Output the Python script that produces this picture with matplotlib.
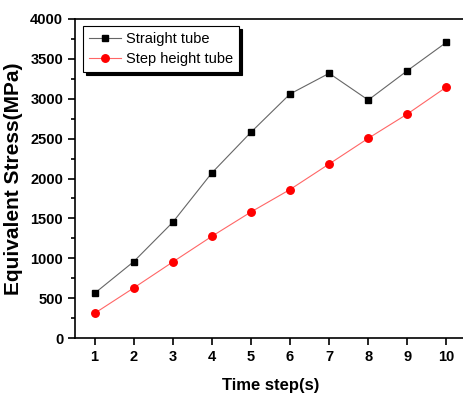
import matplotlib.pyplot as plt
from matplotlib.ticker import MultipleLocator

time_steps = [1, 2, 3, 4, 5, 6, 7, 8, 9, 10]
straight_tube = [560, 957, 1451, 2070, 2580, 3060, 3319, 2984, 3352, 3708]
step_height_tube = [309, 627, 953, 1275, 1580, 1862, 2182, 2504, 2809, 3147]

plt.rcParams['font.family'] = ['Liberation Sans', 'DejaVu Sans']

fig = plt.figure(figsize=(4.63, 3.94), dpi=100)
ax = fig.add_axes([75 / 463, 1 - 338 / 394, 391 / 463, 319 / 394])

ax.plot(time_steps, straight_tube, color='#666666', lw=0.8, marker='s', ms=4.8,
        mfc='black', mec='black', label='Straight tube')
ax.plot(time_steps, step_height_tube, color='#ff6666', lw=0.8, marker='o', ms=5.4,
        mfc='red', mec='red', label='Step height tube')

ax.set_xlim(0.5, 10.5)
ax.set_ylim(0, 4000)
ax.set_xticks(time_steps)
ax.yaxis.set_major_locator(MultipleLocator(500))
ax.yaxis.set_minor_locator(MultipleLocator(250))
ax.tick_params(which='both', direction='out', top=False, right=False, width=1.2)
ax.tick_params(which='major', length=5, labelsize=10.5)
ax.tick_params(which='minor', length=3)
for lab in ax.get_xticklabels() + ax.get_yticklabels():
    lab.set_fontweight('bold')
for sp in ax.spines.values():
    sp.set_linewidth(1.2)

ax.set_xlabel('Time step(s)', fontsize=12, fontweight='bold', labelpad=10)
ax.set_ylabel('Equivalent Stress(MPa)', fontsize=15, fontweight='bold', labelpad=5)

leg = ax.legend(loc='upper left', bbox_to_anchor=(0.02, 0.978), fontsize=10.5,
                fancybox=False, shadow={'color': 'black', 'alpha': 1}, framealpha=1,
                edgecolor='black', borderpad=0.4, labelspacing=0.45, handlelength=2.2,
                handletextpad=0.35, borderaxespad=0)
leg.get_frame().set_linewidth(0.8)

fig.savefig('out.png', dpi=100)
